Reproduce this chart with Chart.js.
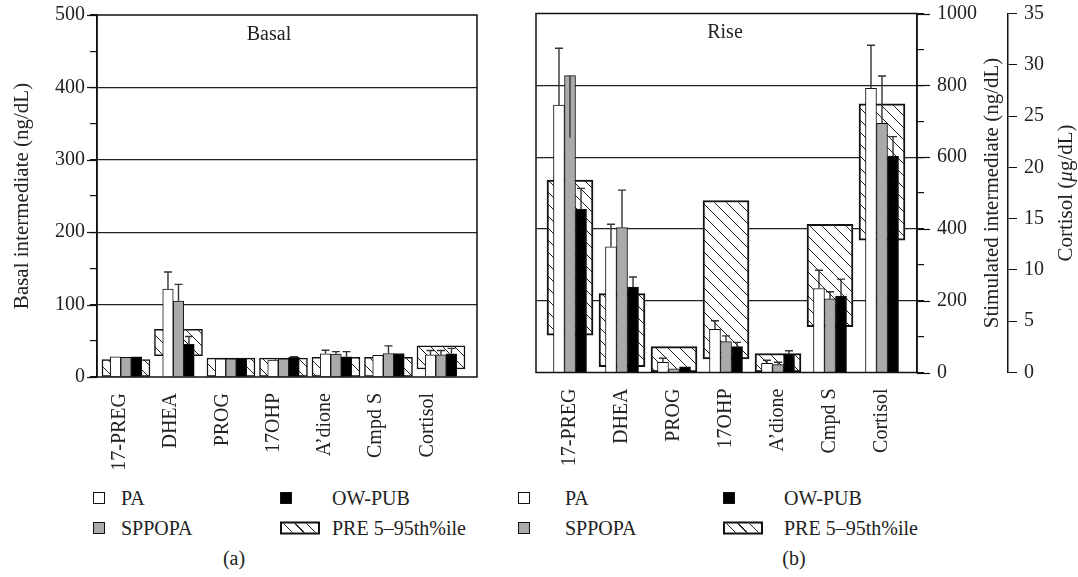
<!DOCTYPE html>
<html>
<head>
<meta charset="utf-8">
<script src="https://cdn.jsdelivr.net/npm/chart.js"></script>
<style>
  body { margin: 0; background: #fff; }
  #wrap { position: relative; width: 1078px; height: 577px; font-family: "Liberation Serif", serif; color: #222; }
  canvas { position: absolute; top: 0; }
  .t { position: absolute; font-size: 20px; line-height: 1; white-space: nowrap; transform: translateY(-50%); }
  .c { transform: translate(-50%, -50%); }
  .sw { position: absolute; width: 12px; height: 12px; border: 1.5px solid #111; box-sizing: border-box; transform: translateY(-50%); }
  .hatch { width: 40px; height: 13px; border-width: 2px;
    background: repeating-linear-gradient(45deg, #fff 0 7px, #222 7px 8px); }
</style>
</head>
<body>
<div id="wrap">
  <canvas id="basal" width="500" height="470" style="left:0;width:500px;height:470px"></canvas>
  <canvas id="rise" width="578" height="470" style="left:500px;width:578px;height:470px"></canvas>

  <div class="t c" style="left:269px;top:33px">Basal</div>
  <div class="t c" style="left:725px;top:31px">Rise</div>

  <div class="sw" style="left:93px;top:498px;background:#fff"></div>
  <div class="t" style="left:121px;top:498px">PA</div>
  <div class="sw" style="left:93px;top:528px;background:#aaa"></div>
  <div class="t" style="left:121px;top:528px">SPPOPA</div>
  <div class="sw" style="left:280px;top:498px;background:#000"></div>
  <div class="t" style="left:332px;top:498px">OW-PUB</div>
  <div class="sw hatch" style="left:280px;top:528px"></div>
  <div class="t" style="left:332px;top:528px">PRE 5–95th%ile</div>
  <div class="t c" style="left:234px;top:558px">(a)</div>

  <div class="sw" style="left:518px;top:498px;background:#fff"></div>
  <div class="t" style="left:565px;top:498px">PA</div>
  <div class="sw" style="left:518px;top:528px;background:#aaa"></div>
  <div class="t" style="left:565px;top:528px">SPPOPA</div>
  <div class="sw" style="left:723px;top:498px;background:#000"></div>
  <div class="t" style="left:784px;top:498px">OW-PUB</div>
  <div class="sw hatch" style="left:723px;top:528px"></div>
  <div class="t" style="left:784px;top:528px">PRE 5–95th%ile</div>
  <div class="t c" style="left:794px;top:558px">(b)</div>
</div>
<script>
const cats = ['17-PREG', 'DHEA', 'PROG', '17OHP', 'A’dione', 'Cmpd S', 'Cortisol'];

// (a) basal, ng/dL
const basalPA = [28, 121.5, 25, 23.5, 32, 30, 30.5];
const basalSPPOPA = [27, 105, 25, 25, 31.5, 32.5, 30.5];
const basalOWPUB = [28, 45, 25, 27, 28, 32.5, 32];
const basalPreLow = [0, 29.5, 0, 0, 0, 0, 11];
const basalPreHigh = [24, 66, 26, 26, 27, 27, 43];
const basalPAErr = [null, 145, null, null, 37, null, 36.5];
const basalSPPOPAErr = [null, 128, null, null, 35, 43, 36.5];
const basalOWPUBErr = [null, 56, null, 28, 35, null, 39.6];
const basalTicks = [0, 100, 200, 300, 400, 500];

// (b) rise, ng/dL (first six steroids)
const risePA = [745, 350, 28, 120, 25.5, 234];
const riseSPPOPA = [827, 404, 10, 86, 22, 205];
const riseOWPUB = [455, 238, 16, 72, 51, 213];
const risePreLow = [104, 16, 0, 38, 0, 128];
const risePreHigh = [536, 220, 72, 479, 53, 413];
const risePAErr = [903, 413, 39.5, 144, 34, 285];
const riseSPPOPAErr = [654, 508, null, 102, 28.4, 225];
const riseOWPUBErr = [513, 266, null, 84, 60.5, 260];
const riseTicks = [0, 200, 400, 600, 800, 1000];

// (b) cortisol rise, ug/dL: PA, SPPOPA, OW-PUB
const riseCortisol = [27.7, 24.3, 21.1];
const riseCortisolErr = [31.9, 28.9, 23.0];
const riseCortisolPre = [12.9, 26.2];
const cortTicks = [0, 5, 10, 15, 20, 25, 30, 35];

const FONT = 'Liberation Serif';
const INK = '#222';

function hatch(ctx) {
  const s = 12;
  const c = document.createElement('canvas');
  c.width = c.height = s;
  const g = c.getContext('2d');
  g.fillStyle = '#fff';
  g.fillRect(0, 0, s, s);
  g.strokeStyle = '#222';
  g.lineWidth = 1;
  g.beginPath();
  g.moveTo(-1, -1); g.lineTo(s + 1, s + 1);
  g.moveTo(s - 1, -1); g.lineTo(s + 1, 1);
  g.moveTo(-1, s - 1); g.lineTo(1, s + 1);
  g.stroke();
  return ctx.createPattern(c, 'repeat');
}

function vtext(ctx, parts, x, y) {
  ctx.save();
  ctx.translate(x, y);
  ctx.rotate(-Math.PI / 2);
  ctx.textBaseline = 'middle';
  ctx.textAlign = 'left';
  ctx.fillStyle = INK;
  let w = 0;
  parts.forEach(p => { ctx.font = p[1] + '21px "' + FONT + '"'; w += ctx.measureText(p[0]).width; });
  let cx = -w / 2;
  parts.forEach(p => {
    ctx.font = p[1] + '21px "' + FONT + '"';
    ctx.fillText(p[0], cx, 0);
    cx += ctx.measureText(p[0]).width;
  });
  ctx.restore();
}

// error whiskers, plot frame, longer major ticks and rotated axis titles
const extras = {
  id: 'extras',
  afterDatasetsDraw(chart) {
    const ctx = chart.ctx;
    ctx.save();
    ctx.strokeStyle = '#333';
    ctx.lineWidth = 1.4;
    chart.data.datasets.forEach((ds, i) => {
      if (!ds.errors) return;
      const meta = chart.getDatasetMeta(i);
      const ys = chart.scales[meta.yAxisID];
      meta.data.forEach((bar, j) => {
        const e = ds.errors[j];
        if (e == null) return;
        const yp = ys.getPixelForValue(e);
        ctx.beginPath();
        ctx.moveTo(bar.x, bar.y);
        ctx.lineTo(bar.x, yp);
        if (yp < bar.y) { ctx.moveTo(bar.x - 4, yp); ctx.lineTo(bar.x + 4, yp); }
        ctx.stroke();
      });
    });
    const a = chart.chartArea;
    ctx.strokeStyle = '#111';
    ctx.lineWidth = 1.5;
    ctx.strokeRect(a.left, a.top, a.right - a.left, a.bottom - a.top);
    ctx.restore();
  },
  afterDraw(chart, args, opts) {
    const ctx = chart.ctx;
    const a = chart.chartArea;
    ctx.save();
    ctx.strokeStyle = '#111';
    ctx.lineWidth = 1.2;
    (opts.majors || []).forEach(m => {
      const s = chart.scales[m.scale];
      m.values.forEach(v => {
        const y = Math.round(s.getPixelForValue(v)) + 0.5;
        const x0 = m.side === 'left' ? a.left : a.right;
        ctx.beginPath();
        ctx.moveTo(x0, y);
        ctx.lineTo(x0 + (m.side === 'left' ? -m.len : m.len), y);
        ctx.stroke();
      });
    });
    ctx.restore();
    const mid = (a.top + a.bottom) / 2;
    (opts.titles || []).forEach(t => vtext(ctx, t.parts, t.x(chart), mid));
  }
};

// each series sits at category index + slot * step, drawn ungrouped
function bars(vals, errs, color, xId, yId, width, slot, step, x0) {
  return {
    data: vals.map((v, i) => ({ x: x0 + i + slot * step, y: v })),
    errors: errs,
    xAxisID: xId, yAxisID: yId,
    backgroundColor: color, borderColor: '#111', borderWidth: 1,
    barThickness: width, grouped: false, order: 0
  };
}

function pre(low, high, pattern, xId, yId, width, x0, bw) {
  return {
    data: low.map((lo, i) => ({ x: x0 + i, y: [lo, high[i]] })),
    xAxisID: xId, yAxisID: yId,
    backgroundColor: pattern, borderColor: '#111', borderWidth: bw,
    borderSkipped: false, barThickness: width, grouped: false, order: 1
  };
}

// fixed axis sizes, no extra label overhang padding
function fixSize(w, h) {
  return s => {
    if (w != null) s.width = w;
    if (h != null) s.height = h;
    s.paddingTop = 0; s.paddingBottom = 0; s.paddingLeft = 0; s.paddingRight = 0;
  };
}

function labelAxis(min, max, h) {
  return {
    type: 'linear', min: min, max: max, offset: false,
    afterBuildTicks: s => { s.ticks = cats.map((c, i) => ({ value: i })); },
    afterFit: fixSize(null, h),
    grid: { display: false, offset: false }, border: { display: false },
    ticks: { autoSkip: false, minRotation: 90, maxRotation: 90, padding: 8, color: INK,
      font: { family: FONT, size: 20 }, callback: v => cats[v] }
  };
}

const tickFont = { family: FONT, size: 20 };

// (a)
const bctx = document.getElementById('basal').getContext('2d');
const bPattern = hatch(bctx);
const bStep = 0.2;
new Chart(bctx, {
  type: 'bar',
  data: {
    datasets: [
      bars(basalPA, basalPAErr, '#fff', 'xb', 'y', 10.5, -1, bStep, 0),
      bars(basalSPPOPA, basalSPPOPAErr, '#aaa', 'xb', 'y', 10.5, 0, bStep, 0),
      bars(basalOWPUB, basalOWPUBErr, '#000', 'xb', 'y', 10.5, 1, bStep, 0),
      pre(basalPreLow, basalPreHigh, bPattern, 'xb', 'y', 48, 0, 1.5)
    ]
  },
  options: {
    responsive: false,
    animation: false,
    layout: { padding: { top: 15, right: 23, left: 0, bottom: 0 } },
    scales: {
      x: labelAxis(-0.449, 6.97, 93),
      xb: { type: 'linear', display: false, offset: false, min: -0.552, max: 6.686 },
      y: {
        position: 'left', min: 0, max: 500,
        afterFit: fixSize(97, null),
        ticks: { stepSize: 25, padding: 5, color: INK, font: tickFont,
          callback: v => basalTicks.includes(v) ? v : '' },
        grid: { tickLength: 7, tickColor: '#111', lineWidth: 1.2,
          color: c => (c.tick && c.tick.value % 100 === 0 && c.tick.value > 0 && c.tick.value < 500) ? '#222' : 'rgba(0,0,0,0)' },
        border: { display: true, color: '#111', width: 1.5 }
      }
    },
    plugins: {
      legend: { display: false },
      tooltip: { enabled: false },
      extras: {
        majors: [{ scale: 'y', values: basalTicks, side: 'left', len: 10 }],
        titles: [{ parts: [['Basal intermediate (ng/dL)', '']], x: ch => 22 }]
      }
    }
  },
  plugins: [extras]
});

// (b)
const rctx = document.getElementById('rise').getContext('2d');
const rPattern = hatch(rctx);
const rStep = 0.212;
new Chart(rctx, {
  type: 'bar',
  data: {
    datasets: [
      bars(risePA, risePAErr, '#fff', 'x', 'y', 11, -1, rStep, 0),
      bars(riseSPPOPA, riseSPPOPAErr, '#aaa', 'x', 'y', 11, 0, rStep, 0),
      bars(riseOWPUB, riseOWPUBErr, '#000', 'x', 'y', 11, 1, rStep, 0),
      pre(risePreLow, risePreHigh, rPattern, 'x', 'y', 46, 0, 2),
      bars([riseCortisol[0]], [riseCortisolErr[0]], '#fff', 'x', 'yC', 11, -1, rStep, 6),
      bars([riseCortisol[1]], [riseCortisolErr[1]], '#aaa', 'x', 'yC', 11, 0, rStep, 6),
      bars([riseCortisol[2]], [riseCortisolErr[2]], '#000', 'x', 'yC', 11, 1, rStep, 6),
      pre([riseCortisolPre[0]], [riseCortisolPre[1]], rPattern, 'x', 'yC', 46, 6, 2)
    ]
  },
  options: {
    responsive: false,
    animation: false,
    layout: { padding: { top: 13.5, right: 0, left: 36, bottom: 0 } },
    scales: {
      x: labelAxis(-0.654, 6.673, 97.5),
      y: {
        position: 'right', weight: 0, min: 0, max: 1000,
        afterFit: fixSize(91, null),
        ticks: { stepSize: 50, padding: 13, color: INK, font: tickFont,
          callback: v => riseTicks.includes(v) ? v : '' },
        grid: { tickLength: 7, tickColor: '#111', lineWidth: 1.2,
          color: c => (c.tick && c.tick.value % 200 === 0 && c.tick.value > 0 && c.tick.value < 1000) ? '#222' : 'rgba(0,0,0,0)' },
        border: { display: true, color: '#111', width: 1.5 }
      },
      yC: {
        position: 'right', weight: 1, min: 0, max: 35,
        afterFit: fixSize(70, null),
        ticks: { stepSize: 5, padding: 7, color: INK, font: tickFont,
          callback: v => cortTicks.includes(v) ? v : '' },
        grid: { drawOnChartArea: false, tickLength: 9, tickColor: '#111' },
        border: { display: true, color: '#111', width: 1.5 }
      }
    },
    plugins: {
      legend: { display: false },
      tooltip: { enabled: false },
      extras: {
        majors: [{ scale: 'y', values: riseTicks, side: 'right', len: 13 }],
        titles: [
          { parts: [['Stimulated intermediate (ng/dL)', '']], x: ch => ch.scales.y.right - 16 },
          { parts: [['Cortisol (', ''], ['μ', 'italic '], ['g/dL)', '']], x: ch => ch.scales.yC.right - 12 }
        ]
      }
    }
  },
  plugins: [extras]
});
</script>
</body>
</html>
